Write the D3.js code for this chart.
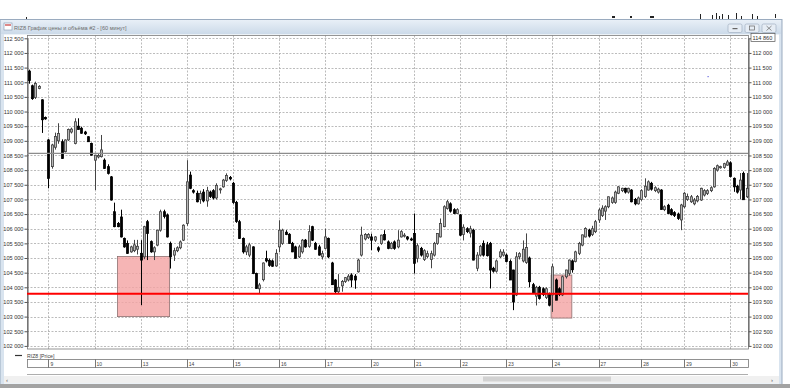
<!DOCTYPE html>
<html>
<head>
<meta charset="utf-8">
<script src="https://cdn.jsdelivr.net/npm/d3@7"></script>
<style>
  body { margin: 0; background: #fff; }
  svg { display: block; }
  text { font-family: "Liberation Sans", Arial, sans-serif; }
</style>
</head>
<body>
<svg id="chart" width="800" height="388"></svg>
<script>
// trading days shown (first one is cut at the left edge) and hourly bars in each
const days = [8, 9, 10, 13, 14, 15, 16, 17, 20, 21, 22, 23, 24, 27, 28, 29, 30];
const barsPerDay = [6, 14, 14, 14, 14, 14, 14, 14, 13, 14, 14, 14, 14, 13, 13, 14, 6];

// RIZ8, 60 min candles
const opens = [
  111380,110880,110480,110790,110400,109800,
  109030,108120,108780,109000,108970,108630,109030,109300,108910,109500,109430,109300,109140,108910,
  108340,108450,108460,108340,108120,107770,106580,106180,106400,105670,105500,105210,105250,105300,
  105160,105040,106240,105560,105210,105440,105950,106580,106470,105500,105100,105250,105350,105610,
  106180,107830,107300,107210,107000,107250,106950,107250,107300,107050,107330,107430,107650,107750,
  107550,106900,106240,105670,105210,105100,105380,104470,103950,104260,104980,104920,104900,104730,
  105380,105500,105880,105810,105500,105380,105040,105210,105610,105400,106070,105500,105380,105040,
  105330,105670,104830,104250,103850,104050,104200,104250,104420,104380,104530,105100,105650,105700,
  105720,105610,105350,105500,105800,105550,105330,105550,105380,105720,105750,105720,105650,
  105840,104990,105330,104950,105050,104950,105100,105500,105720,106070,106690,106850,106650,106520,
  106470,105800,106000,105850,105950,104650,105100,105500,105450,105500,104650,104550,105040,105100,
  105100,104880,104590,103740,105040,104900,104850,105000,104090,103700,104000,103950,103650,103790,
  103740,104250,103950,103740,104360,104470,104900,104880,105160,105440,105720,105950,105800,105900,
  106300,106450,106600,106750,106900,106900,107210,107300,107380,107250,107320,107000,106850,
  107000,107100,107320,107550,107300,107250,107320,106650,106800,106650,106550,106500,106300,
  106750,107000,106920,106850,106950,106980,107150,107200,107300,107430,108000,108080,108090,108170,
  108250,107720,107450,107320,107890,107090
];
const highs = [
  111430,110920,111020,110900,110420,109830,
  109060,108900,109280,109600,109050,109050,109420,109450,109770,109770,109480,109340,109160,108940,
  108520,108550,109200,108400,108200,107800,106890,106230,106650,105700,105600,105420,105620,105620,
  105610,106100,106300,105600,105400,105960,106650,106650,106520,105560,105350,105400,105600,106150,
  108340,107950,107350,107300,107300,107350,107430,107300,107350,107550,107400,107700,107890,107800,
  107600,106950,106300,105700,105450,105520,105400,104500,104150,104850,105250,104980,104950,105300,
  106290,106000,105950,105850,105550,105420,105450,105650,105650,106120,106100,105550,105450,105250,
  106000,105700,104870,104280,104450,104250,104350,104450,104480,104450,104980,106070,105850,105850,
  105830,105750,105400,105800,105950,105600,105550,105600,105950,105950,105850,105750,105700,
  106520,105500,105380,105300,105250,105250,105550,105850,106350,106800,106980,106900,106700,106700,
  106500,106150,106050,106100,106000,105200,105450,105600,105550,105550,104700,104950,105300,105300,
  105150,104950,104600,105200,105200,105600,105840,105050,104150,104050,104050,104000,104000,103820,
  104800,104300,104000,104400,104600,104950,104950,105250,105550,105800,106050,106000,106100,106300,
  106700,106800,106800,107100,107100,107300,107450,107400,107400,107400,107350,107050,107100,
  107350,107720,107650,107600,107450,107400,107350,106800,106850,106700,106600,106550,106850,
  107250,107200,107150,107050,107150,107400,107350,107350,107450,108100,108190,108150,108250,108350,
  108300,107750,107500,107900,107950,107900
];
const lows = [
  110950,110400,110430,110760,109270,109720,
  107380,108050,108700,108900,108380,108600,109000,109250,108880,109380,109240,109200,108960,108500,
  107320,108400,108430,108040,107850,106960,106050,106050,105700,105350,105140,105180,105200,105120,
  103390,104960,104930,105180,104930,105400,105900,106350,105700,104640,104900,105200,105300,105580,
  106100,107350,107200,106900,106850,106900,106750,107050,107000,107000,107200,107400,107600,107650,
  106850,106200,105650,105150,105100,105030,104450,103950,103790,104200,104850,104700,104700,104700,
  105200,105450,105780,105480,105200,104980,105000,105150,105350,105350,105580,105280,105080,104950,
  105300,105000,104080,103780,103800,103850,104150,104200,104000,103950,104500,105050,105600,105650,
  105270,105550,105200,105450,105600,105300,105300,105280,105330,105700,105700,105600,105580,
  104470,104850,105050,104900,105000,104650,105050,105450,105700,106050,106650,106550,106500,106500,
  105750,105600,105850,105700,104920,104550,105050,105050,105050,103960,104500,104500,105000,105050,
  104850,104250,103220,103700,104950,104850,104800,104000,103780,103380,103580,103700,103600,103350,
  103160,103560,103700,103700,104300,104400,104500,104850,105100,105400,105700,105700,105750,105850,
  106200,106400,106300,106700,106850,106850,107180,107250,107200,107200,106900,106800,106820,
  106950,107050,107300,107300,107250,107200,106650,106600,106500,106450,106400,106300,105950,
  106700,106950,106880,106800,106900,106950,107100,107150,107250,107400,107950,108050,108050,108150,
  107750,107260,107200,107000,106980,107050
];
const closes = [
  111060,110440,110960,110860,109720,109750,
  107720,108860,109150,109250,108400,109030,109390,109400,109650,109390,109260,109240,108970,108510,
  108510,108500,108690,108060,107890,106980,106070,106070,105720,105380,105160,105380,105450,105400,
  104930,106070,105840,105210,105350,105950,106580,106420,105720,105040,105250,105350,105550,106120,
  107600,107380,107250,106920,107200,106950,107300,107100,107050,107480,107360,107660,107820,107700,
  106900,106250,105670,105210,105380,105450,104470,103960,104080,104830,104900,104750,104720,105160,
  105950,105950,105800,105500,105210,104990,105380,105610,105380,105900,105610,105300,105100,105150,
  105720,105040,104090,103850,104000,104200,104330,104380,104250,104250,104930,105780,105800,105800,
  105610,105720,105270,105780,105620,105330,105500,105330,105610,105900,105780,105650,105620,
  104820,105420,105100,105250,105150,105150,105500,105840,106180,106750,106920,106600,106520,106650,
  105780,106050,105900,106000,104930,105100,105400,105100,105080,104590,104550,104900,105210,105200,
  104880,104250,103500,105040,105150,105300,105360,104190,103790,104000,103620,103750,103950,103390,
  104700,103560,103750,104360,104590,104930,104600,105210,105500,105790,106010,105750,106000,106240,
  106640,106700,106750,107090,107050,107250,107430,107380,107250,107380,106920,106850,107050,
  107300,107450,107600,107350,107400,107350,106660,106750,106520,106480,106450,106350,106810,
  107210,107100,107090,106980,107100,107380,107300,107300,107400,108060,108150,108120,108220,108280,
  107780,107430,107250,107660,106990,107380
];

const yTicks = [102000,102500,103000,103500,104000,104500,105000,105500,106000,106500,107000,
                107500,108000,108500,109000,109500,110000,110500,111000,111500,112000,112500];

// drawn levels and highlighted zones (bar positions are fractional bar indices)
const grayLevel = 108570;
const redLevel = 103780;
const zoneStart = [27, 158.6];
const zoneEnd = [42.8, 164.9];
const zoneHigh = [105050, 104420];
const zoneLow = [103000, 102950];

const title = 'RIZ8 График цены и объёма #2 - [60 минут]';
const seriesName = 'RIZ8 [Price]';
const lastPriceLabel = '114 860';

const svg = d3.select('#chart');
const L = 27, R = 748, T = 35.5, B = 349;

const ru = d3.formatLocale({decimal: '.', thousands: ' ', grouping: [3], currency: ['', '']});
const fmt = ru.format(',');

// window chrome
svg.append('rect').attr('width', 800).attr('height', 388).attr('fill', '#fff');
// bits of the toolbar above the window
const tb = [[26, 17, 1, 3], [612, 16, 3, 2], [630, 16, 2, 2], [650, 16, 4, 2], [700, 14, 1, 5], [712, 15, 1, 4],
            [716, 13, 1, 6], [719, 16, 1, 3], [722, 14, 1, 5], [728, 15, 1, 4], [736, 13, 1, 6], [741, 16, 1, 3],
            [752, 14, 1, 5], [757, 16, 1, 3], [775, 14, 1, 4]];
svg.append('g').selectAll('rect').data(tb).enter().append('rect')
  .attr('x', d => d[0]).attr('y', d => d[1]).attr('width', d => d[2]).attr('height', d => d[3]).attr('fill', '#222');
const grad = svg.append('defs').append('linearGradient').attr('id', 'tb').attr('x1', 0).attr('x2', 0).attr('y1', 0).attr('y2', 1);
grad.append('stop').attr('offset', 0).attr('stop-color', '#e8eff7');
grad.append('stop').attr('offset', 1).attr('stop-color', '#ccdae9');
svg.append('rect').attr('x', 0).attr('y', 19.5).attr('width', 782).attr('height', 366)
  .attr('fill', '#d9e4ef').attr('stroke', '#9aabbf');
svg.append('rect').attr('x', 1).attr('y', 20).attr('width', 780).attr('height', 14).attr('fill', 'url(#tb)');
svg.append('rect').attr('x', 4).attr('y', 23).attr('width', 8).attr('height', 7).attr('fill', '#fff').attr('stroke', '#7f93ad').attr('stroke-width', 0.6);
svg.append('rect').attr('x', 5).attr('y', 24).attr('width', 6).attr('height', 2).attr('fill', '#d88');
svg.append('text').attr('x', 14).attr('y', 29.5).attr('font-size', 5.6).attr('fill', '#6e6e6e').text(title);

const btnX = [728, 745, 762];
const btns = svg.append('g');
btnX.forEach((bx, i) => {
  btns.append('rect').attr('x', bx).attr('y', 24).attr('width', 14).attr('height', 8.5).attr('rx', 1.5)
    .attr('fill', '#e6edf5').attr('stroke', '#a2b0c2').attr('stroke-width', 0.7);
});
btns.append('rect').attr('x', 732.5).attr('y', 28).attr('width', 5).attr('height', 1.2).attr('fill', '#666');
btns.append('rect').attr('x', 749.5).attr('y', 26).attr('width', 5).attr('height', 4).attr('fill', 'none').attr('stroke', '#666').attr('stroke-width', 0.7);
btns.append('path').attr('d', 'M766.5,26 L771.5,30.5 M771.5,26 L766.5,30.5').attr('stroke', '#666').attr('stroke-width', 0.7);

svg.append('rect').attr('x', 4).attr('y', 34.5).attr('width', 775).attr('height', 349).attr('fill', '#fff');
svg.append('rect').attr('x', 0).attr('y', 384).attr('width', 790).attr('height', 4).attr('fill', '#a3a3a3');

// scales
const x = d3.scaleBand().domain(d3.range(opens.length)).range([L, R + 0.4]).paddingInner(0.3).paddingOuter(0.15);
const bw = x.bandwidth();
const cx = i => x(0) + i * x.step() + bw / 2;
const y = d3.scaleLinear().domain([102000, 112500]).range([345.9, 38.3]);

// first bar of each day
const dayStart = [];
let acc = 0;
barsPerDay.forEach(n => { dayStart.push(acc); acc += n; });

// grid
const grid = svg.append('g').attr('stroke', '#ababab').attr('stroke-dasharray', '2,1.5').attr('stroke-width', 0.8);
grid.selectAll('.h').data(yTicks).enter().append('line')
  .attr('x1', L).attr('x2', R).attr('y1', d => Math.round(y(d)) + 0.5).attr('y2', d => Math.round(y(d)) + 0.5);
grid.selectAll('.v').data(dayStart.slice(1)).enter().append('line')
  .attr('x1', d => Math.round(cx(d)) + 0.5).attr('x2', d => Math.round(cx(d)) + 0.5).attr('y1', T).attr('y2', B);

// plot frame
svg.append('rect').attr('x', L + 0.5).attr('y', T).attr('width', R - L).attr('height', B - T)
  .attr('fill', 'none').attr('stroke', '#7a7a7a').attr('stroke-width', 0.8);

// axes
const styleAxis = g => {
  g.select('.domain').attr('stroke', '#555');
  g.selectAll('.tick line').attr('stroke', '#555');
  g.selectAll('.tick text').attr('font-size', 5.6).attr('fill', '#333').attr('font-family', '"Liberation Sans", Arial, sans-serif');
};
svg.append('g').attr('transform', `translate(${L + 0.5},0)`)
  .call(d3.axisLeft(y).tickValues(yTicks).tickFormat(fmt).tickSize(3).tickPadding(1).tickSizeOuter(0)).call(styleAxis);
svg.append('g').attr('transform', `translate(${R + 0.5},0)`)
  .call(d3.axisRight(y).tickValues(yTicks).tickFormat(fmt).tickSize(3).tickPadding(1).tickSizeOuter(0)).call(styleAxis);

// zones
const zones = d3.range(zoneStart.length);
svg.append('g').selectAll('rect').data(zones).enter().append('rect')
  .attr('x', i => cx(zoneStart[i])).attr('width', i => cx(zoneEnd[i]) - cx(zoneStart[i]))
  .attr('y', i => y(zoneHigh[i])).attr('height', i => y(zoneLow[i]) - y(zoneHigh[i]))
  .attr('fill', '#f4a3a3').attr('fill-opacity', 0.8).attr('stroke', '#8d7070').attr('stroke-width', 0.8);

// candles
const idx = d3.range(opens.length);
const cg = svg.append('g');
cg.selectAll('line').data(idx).enter().append('line')
  .attr('x1', i => Math.round(cx(i)) + 0.5).attr('x2', i => Math.round(cx(i)) + 0.5)
  .attr('y1', i => y(highs[i])).attr('y2', i => y(lows[i]))
  .attr('stroke', i => closes[i] >= opens[i] ? '#444' : '#000').attr('stroke-width', 1);
cg.selectAll('rect').data(idx).enter().append('rect')
  .attr('x', i => Math.round(cx(i)) - 0.5).attr('width', 2)
  .attr('y', i => y(Math.max(opens[i], closes[i])))
  .attr('height', i => Math.max(1, y(Math.min(opens[i], closes[i])) - y(Math.max(opens[i], closes[i]))))
  .attr('fill', i => closes[i] >= opens[i] ? '#b9b9b9' : '#000')
  .attr('stroke', i => closes[i] >= opens[i] ? '#3c3c3c' : '#000').attr('stroke-width', 0.8);

// levels
svg.append('line').attr('x1', L).attr('x2', R).attr('y1', y(grayLevel)).attr('y2', y(grayLevel))
  .attr('stroke', '#8c8c8c').attr('stroke-width', 1.3);
svg.append('line').attr('x1', L).attr('x2', R).attr('y1', y(redLevel)).attr('y2', y(redLevel))
  .attr('stroke', '#ff0000').attr('stroke-width', 1.8);

// stray marker on the chart
svg.append('rect').attr('x', 707.5).attr('y', 76).attr('width', 1.2).attr('height', 1.2).attr('fill', '#6a6adf');

// last price box on the right axis
svg.append('rect').attr('x', R + 3).attr('y', 33.5).attr('width', 24).attr('height', 8)
  .attr('fill', '#fff').attr('stroke', '#555').attr('stroke-width', 0.7);
svg.append('text').attr('x', R + 4.5).attr('y', 40).attr('font-size', 5.6).attr('fill', '#333').text(lastPriceLabel);

// legend
svg.append('line').attr('x1', 15).attr('x2', 22).attr('y1', 355.5).attr('y2', 355.5).attr('stroke', '#333').attr('stroke-width', 1.2);
svg.append('text').attr('x', 27).attr('y', 357.5).attr('font-size', 5.2).attr('fill', '#444').text(seriesName);

// time axis
const tAxis = svg.append('g');
tAxis.append('rect').attr('x', L + 0.5).attr('y', 359.5).attr('width', R - L).attr('height', 8)
  .attr('fill', '#fff').attr('stroke', '#777').attr('stroke-width', 0.8);
tAxis.append('line').attr('x1', L).attr('x2', R).attr('y1', 374.5).attr('y2', 374.5).attr('stroke', '#999').attr('stroke-width', 0.8);
const labelled = d3.range(1, days.length);
tAxis.selectAll('line.t').data(labelled).enter().append('line')
  .attr('x1', i => Math.round(cx(dayStart[i])) + 0.5).attr('x2', i => Math.round(cx(dayStart[i])) + 0.5)
  .attr('y1', 359.5).attr('y2', 367.5).attr('stroke', '#555').attr('stroke-width', 0.8);
tAxis.selectAll('text').data(labelled).enter().append('text')
  .attr('x', i => cx(dayStart[i]) + 2).attr('y', 365.8).attr('font-size', 5).attr('fill', '#444')
  .text(i => days[i]);

// horizontal scrollbar
svg.append('rect').attr('x', 4).attr('y', 376).attr('width', 775).attr('height', 7).attr('fill', '#f0f0f0');
svg.append('rect').attr('x', 483).attr('y', 376.5).attr('width', 128).attr('height', 5).attr('fill', '#d2d2d2');
svg.append('text').attr('x', 6).attr('y', 381.5).attr('font-size', 6).attr('fill', '#555').text('‹');
svg.append('text').attr('x', 771).attr('y', 381.5).attr('font-size', 6).attr('fill', '#555').text('›');
</script>
</body>
</html>
